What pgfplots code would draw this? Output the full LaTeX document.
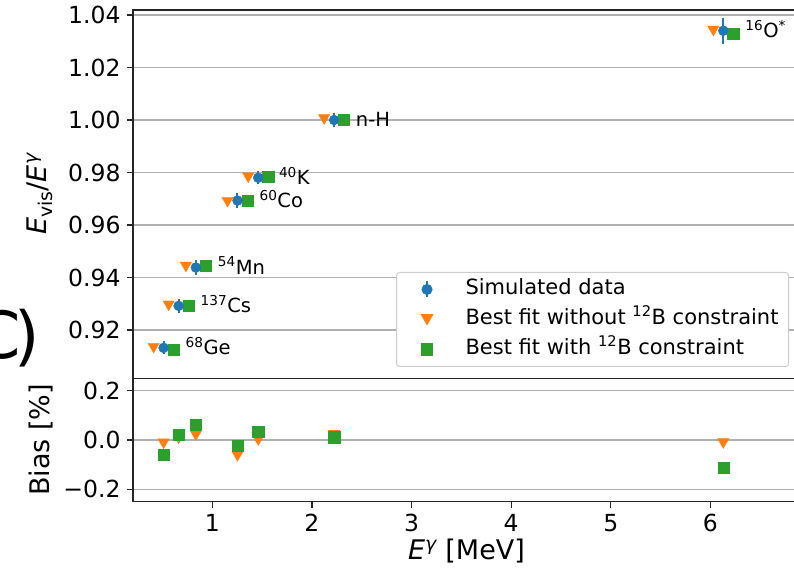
\documentclass[border=0pt]{standalone}
\usepackage{pgfplots}
\pgfplotsset{compat=1.18}
\usepackage{fontspec}
\setmainfont{DejaVu Sans}
\definecolor{c0}{HTML}{1F77B4}
\definecolor{c1}{HTML}{FF7F0E}
\definecolor{c2}{HTML}{2CA02C}
\definecolor{gridc}{HTML}{B0B0B0}
\pgfplotsset{
  common/.style={
    scale only axis, width=667pt,
    xmin=0.204, xmax=6.9,
    axis line style={black!85, line width=1.5pt},
    tick style={black!85, line width=1.2pt},
    tick align=outside, major tick length=6pt,
    tick pos=left,
    ymajorgrids, grid style={gridc, line width=1.2pt},
    tick label style={font=\fontsize{23.5}{27}\selectfont},
    yticklabel style={xshift=-3pt},
    xticklabel style={yshift=-3pt},
    label style={font=\fontsize{27}{31}\selectfont},
    /pgf/number format/assume math mode=true,
    ylabel style={at={(axis description cs:-0.12,0.5)}, rotate=0, anchor=south, inner sep=0pt},
  },
  tri/.style={only marks, mark=triangle*, c1, mark size=6.5pt, mark options={yshift=1.6pt, rotate=180}},
  sq/.style={only marks, mark=square*, c2, mark size=5.6pt},
}
\begin{document}
\begin{tikzpicture}
\begin{axis}[common, at={(133pt,193.7pt)}, anchor=south west, height=368.3pt,
  ymin=0.9016, ymax=1.0419,
  ytick={0.92,0.94,0.96,0.98,1.00,1.02,1.04},
  yticklabels={0.92,0.94,0.96,0.98,1.00,1.02,1.04},
  xtick=\empty,
  ylabel={{\itshape E}\textsubscript{vis}/{\itshape E}\textsuperscript{\itshape γ}},
  legend style={at={(0.9835,0.0307)}, anchor=south east, draw=black!20, rounded corners=3pt, line width=1pt,
    font=\fontsize{21}{25}\selectfont, inner xsep=10pt, inner ysep=7pt,
    nodes={inner sep=0pt, text height=15pt, text depth=5pt}, row sep=10pt, column sep=0pt},
  legend cell align=left,
]
\addlegendimage{legend image code/.code={\path (0pt,0pt) (58pt,0pt); \draw[c0, line width=2pt] (20pt,-8pt)--(20pt,8pt); \fill[c0] (20pt,0pt) circle (5pt);}}
\addlegendentry{Simulated data}
\addlegendimage{legend image code/.code={\path (0pt,0pt) (58pt,0pt); \path[c1, fill=c1, shift={(20pt,1.6pt)}, rotate=180] plot[mark=triangle*, mark size=6.5pt] coordinates {(0pt,0pt)};}}
\addlegendentry{Best fit without \textsuperscript{12}B constraint}
\addlegendimage{legend image code/.code={\path (0pt,0pt) (58pt,0pt); \path[c2, fill=c2] plot[mark=square*, mark size=5.6pt] coordinates {(20pt,0pt)};}}
\addlegendentry{Best fit with \textsuperscript{12}B constraint}
\addplot[tri, forget plot] table {
x y
0.411 0.9131
0.562 0.9292
0.735 0.9440
1.153 0.9687
1.361 0.9780
2.123 1.0002
6.030 1.0339
};
\addplot[sq, forget plot] table {
x y
0.611 0.9126
0.762 0.9294
0.935 0.9444
1.353 0.9691
1.561 0.9783
2.323 1.0001
6.230 1.0329
};
\addplot[only marks, mark=*, c0, mark size=5pt, forget plot,
  error bars/.cd, y dir=both, y explicit, error mark=none,
  error bar style={line width=2pt, c0}] table[x=x, y=y, y error=e] {
x y e
0.511 0.9132 0.0025
0.662 0.9292 0.0027
0.835 0.9438 0.0027
1.253 0.9693 0.0029
1.461 0.9780 0.0025
2.223 1.0000 0.0027
6.130 1.0340 0.0050
};
\begin{scope}[font=\fontsize{19.5}{23}\selectfont]
\node[anchor=base west, inner sep=0pt, yshift=-7pt] at (axis cs:0.731,0.9132) {\textsuperscript{68}Ge};
\node[anchor=base west, inner sep=0pt, yshift=-7pt] at (axis cs:0.882,0.9292) {\textsuperscript{137}Cs};
\node[anchor=base west, inner sep=0pt, yshift=-7pt] at (axis cs:1.055,0.9438) {\textsuperscript{54}Mn};
\node[anchor=base west, inner sep=0pt, yshift=-7pt] at (axis cs:1.473,0.9693) {\textsuperscript{60}Co};
\node[anchor=base west, inner sep=0pt, yshift=-7pt] at (axis cs:1.668,0.9780) {\textsuperscript{40}K};
\node[anchor=base west, inner sep=0pt, yshift=-7pt] at (axis cs:2.440,1.0000) {n-H};
\node[anchor=base west, inner sep=0pt, yshift=-7pt] at (axis cs:6.350,1.0340) {\textsuperscript{16}O\textsuperscript{*}};
\end{scope}
\end{axis}
\begin{axis}[common, at={(133pt,70.3pt)}, anchor=south west, height=123.4pt,
  ymin=-0.25, ymax=0.25,
  ytick={-0.2,0,0.2}, yticklabels={−0.2,0.0,0.2},
  xtick={1,2,3,4,5,6}, xticklabels={1,2,3,4,5,6},
  xlabel={{\itshape E}\textsuperscript{\itshape γ} [MeV]},
  ylabel={Bias [\%]},
]
\addplot[tri] table {
x y
0.511 -0.015
0.662 0.005
0.835 0.018
1.253 -0.066
1.461 -0.002
2.223 0.020
6.130 -0.014
};
\addplot[sq] table {
x y
0.511 -0.061
0.662 0.020
0.835 0.061
1.253 -0.023
1.461 0.034
2.223 0.011
6.130 -0.111
};
\end{axis}
\node[anchor=base east, inner sep=0pt, font=\fontsize{65}{70}\selectfont] at (21pt,213pt) {C};
\node[anchor=base east, inner sep=0pt, font=\fontsize{65}{70}\selectfont] at (40pt,213pt) {)};
\pgfresetboundingbox
\useasboundingbox (0pt,0pt) rectangle (794pt,572pt);
\end{tikzpicture}
\end{document}
